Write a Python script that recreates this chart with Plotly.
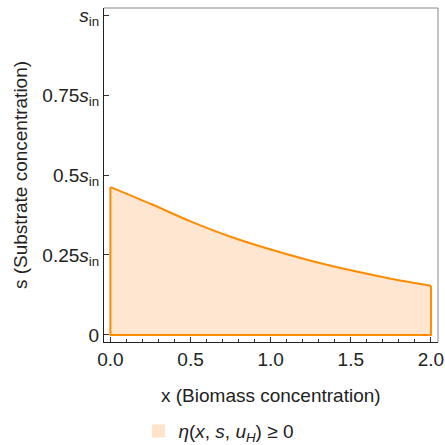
import plotly.graph_objects as go

x_vals = [0.0, 0.25, 0.5, 0.75, 1.0, 1.25, 1.5, 1.75, 2.0]
s_upper = [0.462, 0.41, 0.355, 0.307, 0.267, 0.232, 0.202, 0.176, 0.154]

y_tickvals = [0, 0.25, 0.5, 0.75, 1.0]
y_ticktext = ["0", "0.25<i>s</i><sub>in</sub>", "0.5<i>s</i><sub>in</sub>",
              "0.75<i>s</i><sub>in</sub>", "<i>s</i><sub>in</sub>"]
x_tickvals = [0.0, 0.5, 1.0, 1.5, 2.0]
x_ticktext = ["0.0", "0.5", "1.0", "1.5", "2.0"]

x_title = "x (Biomass concentration)"
y_title = "s (Substrate concentration)"
legend_name = "<i>η</i>(<i>x</i>, <i>s</i>, <i>u<sub>H</sub></i>) ≥ 0"

ORANGE = "#FF8C00"
FILL = "rgba(255,200,150,0.45)"
SWATCH = "#FFE3CA"
FONT = "Liberation Sans, Arial, sans-serif"
FS = 19

fig = go.Figure()
# top curve with fill down to zero
fig.add_trace(go.Scatter(x=x_vals, y=s_upper, mode="lines", fill="tozeroy",
                         fillcolor=FILL, line=dict(color=ORANGE, width=2, shape="spline", smoothing=0.8),
                         showlegend=False, hoverinfo="skip"))
# left, bottom and right edges of the region
fig.add_trace(go.Scatter(x=[x_vals[0], x_vals[0], x_vals[-1], x_vals[-1]],
                         y=[s_upper[0], 0, 0, s_upper[-1]], mode="lines",
                         line=dict(color=ORANGE, width=2), showlegend=False, hoverinfo="skip"))
# legend swatch
fig.add_trace(go.Scatter(x=[None], y=[None], mode="markers",
                         marker=dict(symbol="square", size=13, color=SWATCH),
                         name=legend_name, showlegend=True))

fig.update_layout(
    width=445, height=445,
    margin=dict(l=104, r=7, t=8, b=103, autoexpand=False),
    paper_bgcolor="white", plot_bgcolor="white",
    font=dict(family=FONT, size=FS, color="#222"),
    showlegend=True,
    legend=dict(orientation="h", x=0.103, y=-0.267, xref="paper", yref="paper",
                xanchor="left", yanchor="middle", font=dict(size=FS), itemclick=False,
                bgcolor="rgba(0,0,0,0)"),
    xaxis=dict(range=[-0.04, 2.044], tickvals=x_tickvals, ticktext=x_ticktext,
               ticks="inside", ticklen=5, tickcolor="#333", showgrid=False, zeroline=False,
               showline=True, linecolor="#222", linewidth=1, automargin=False,
               minor=dict(tickvals=[i/10 for i in range(21)], ticks="inside", ticklen=3, tickcolor="#333")),
    yaxis=dict(range=[-0.022, 1.022], tickvals=y_tickvals, ticktext=y_ticktext,
               ticks="inside", ticklen=5, tickcolor="#333", showgrid=False, zeroline=False,
               showline=True, linecolor="#222", linewidth=1, automargin=False,
               title=dict(text=y_title, standoff=9, font=dict(size=FS))),
)
fig.add_annotation(text=x_title, xref="paper", yref="paper", x=0.5, y=-0.159,
                   xanchor="center", yanchor="middle", showarrow=False, font=dict(size=FS))
fig.add_shape(type="line", xref="paper", yref="paper", x0=0, x1=1, y0=1, y1=1,
              line=dict(color="#888", width=1))
fig.add_shape(type="line", xref="paper", yref="paper", x0=1, x1=1, y0=0, y1=1,
              line=dict(color="#888", width=1))

fig.write_html("out.html")
